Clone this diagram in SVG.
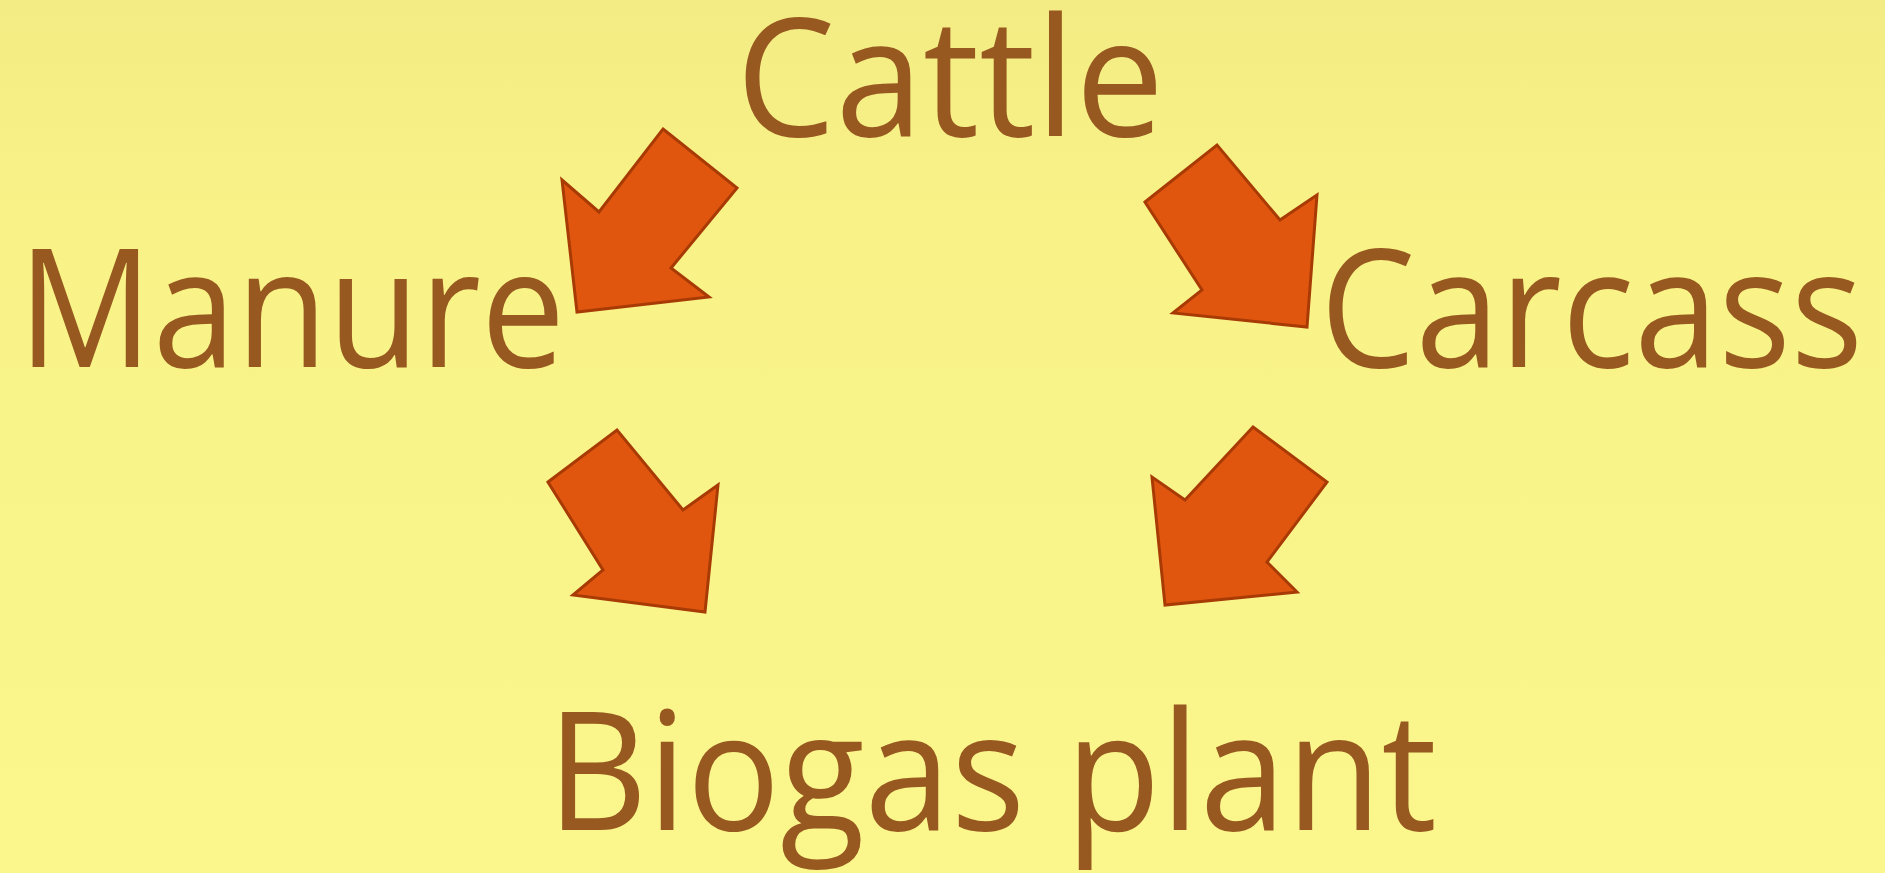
<svg xmlns="http://www.w3.org/2000/svg" width="1885" height="873" viewBox="0 0 1885 873">
<defs>
<linearGradient id="bg" x1="0" y1="0" x2="0" y2="1">
<stop offset="0" stop-color="#f3ec84"/>
<stop offset="0.25" stop-color="#f8f287"/>
<stop offset="1" stop-color="#fbf78d"/>
</linearGradient>
<style>
.lbl{font-family:"Open Sans","Lato","Liberation Sans",sans-serif;font-size:164px;fill:#985920;}
.arr{fill:#e1560f;stroke:#a83b05;stroke-width:3;stroke-linejoin:miter;}
</style>
</defs>
<rect width="1885" height="873" fill="url(#bg)"/>
<g id="cattle"><text class="lbl" x="736" y="136" textLength="428" lengthAdjust="spacingAndGlyphs">Cattle</text></g>
<g id="manure"><text class="lbl" x="18" y="367" textLength="547" lengthAdjust="spacingAndGlyphs">Manure</text></g>
<g id="carcass"><text class="lbl" x="1320" y="367" textLength="543" lengthAdjust="spacingAndGlyphs">Carcass</text></g>
<g id="biogas"><text class="lbl" x="547" y="830" textLength="890" lengthAdjust="spacingAndGlyphs">Biogas plant</text></g>
<g id="connectors">
<polygon class="arr" points="663,129 737,188 671,268 709,297 577,312 562,180 599,212"/>
<polygon class="arr" points="1145,202 1217,145 1280,220 1317,195 1307,327 1173,313 1202,290"/>
<polygon class="arr" points="548,482 617,430 683,510 718,485 705,612 573,595 603,570"/>
<polygon class="arr" points="1253,427 1327,482 1267,562 1297,592 1165,605 1152,477 1185,500"/>
</g>
</svg>
